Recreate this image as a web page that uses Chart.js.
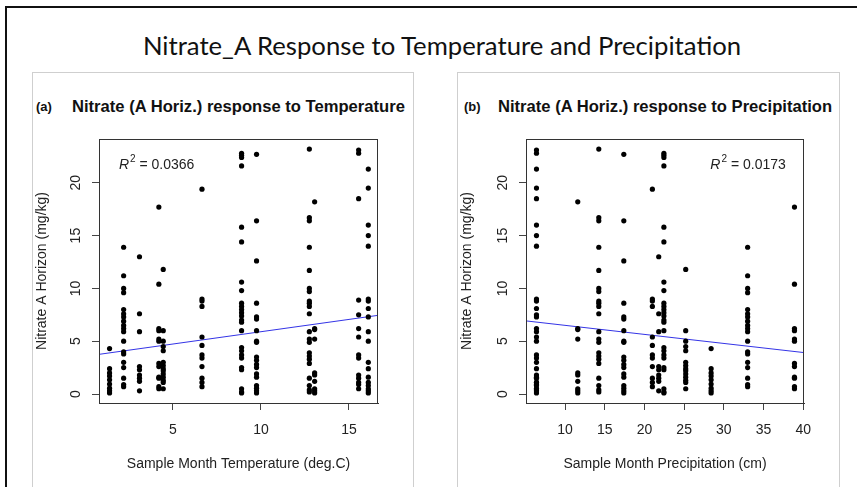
<!DOCTYPE html>
<html>
<head>
<meta charset="utf-8">
<script src="https://cdn.jsdelivr.net/npm/chart.js@4.4.0/dist/chart.umd.min.js"></script>
<style>
  body { margin: 0; width: 857px; height: 487px; overflow: hidden; background: #fff; position: relative;
         font-family: "Liberation Sans", Arial, sans-serif; color: #111; }
  .frame { position: absolute; left: 5px; top: 6px; width: 900px; height: 600px; border: 2px solid #111; }
  .main-title { position: absolute; left: 0; top: 30px; width: 884px; text-align: center;
                font-family: Lato, sans-serif; font-size: 25.7px; }
  .panel { position: absolute; top: 72px; height: 430px; border: 1px solid #cfcfcf; }
  .tag { position: absolute; top: 99px; font-weight: bold; font-size: 13px; }
  .ptitle { position: absolute; top: 97px; font-weight: bold; font-size: 16.6px; }
  canvas { position: absolute; }
</style>
</head>
<body>
<div class="frame"></div>
<div class="main-title">Nitrate_A Response to Temperature and Precipitation</div>

<div class="panel" style="left:32px; width:380px;"></div>
<div class="panel" style="left:457px; width:381px;"></div>

<div class="tag" style="left:36px;">(a)</div>
<div class="ptitle" style="left:72px;">Nitrate (A Horiz.) response to Temperature</div>
<div class="tag" style="left:464px;">(b)</div>
<div class="ptitle" style="left:498px;">Nitrate (A Horiz.) response to Precipitation</div>

<canvas id="tempChart" width="381" height="415" style="left:32px; top:72px;"></canvas>
<canvas id="precipChart" width="382" height="415" style="left:457px; top:72px;"></canvas>

<script>
// one entry per sample month
const monthTemp = [1.4, 2.2, 3.1, 4.2, 4.45, 6.65, 8.9, 9.75, 12.75, 13.05, 15.55, 16.1];
const monthPrecip = [28.4, 33.0, 21.8, 38.9, 25.2, 21.0, 22.45, 17.4, 14.25, 11.6, 6.4, 6.4];

// nitrate (mg/kg) measured in each sample month
const nitrateByMonth = [
  [4.3, 2.4, 2.0, 1.7, 1.35, 0.95, 0.55, 0.3, 0.1],
  [13.9, 11.2, 10.0, 9.6, 8.0, 7.6, 7.3, 6.9, 6.5, 6.2, 5.9, 5.0, 4.0, 3.8, 3.0, 2.5, 1.5, 0.9, 0.7],
  [13.0, 7.6, 5.9, 2.6, 2.3, 1.8, 1.5, 1.2, 0.3],
  [17.7, 10.4, 6.2, 6.0, 5.2, 5.0, 2.9, 2.6, 1.6, 1.5, 0.7, 0.5],
  [11.8, 6.0, 5.0, 4.5, 4.1, 3.0, 2.7, 2.4, 2.2, 1.9, 1.6, 1.3, 1.1, 0.5],
  [19.4, 9.0, 8.8, 8.3, 5.4, 4.6, 3.7, 3.4, 2.6, 1.5, 1.1, 0.7],
  [22.8, 22.6, 22.4, 21.6, 15.8, 14.4, 10.6, 9.8, 8.6, 8.3, 8.0, 7.7, 7.4, 7.0, 6.8, 6.0, 4.4, 4.1, 3.7, 3.4, 2.5, 2.3, 0.5, 0.2, 0.1],
  [22.7, 16.4, 12.6, 8.6, 7.3, 7.1, 6.0, 5.0, 4.9, 3.5, 3.2, 2.8, 2.5, 1.9, 1.6, 0.8, 0.55, 0.3, 0.1],
  [23.2, 16.7, 16.4, 13.9, 11.7, 10.0, 9.7, 8.8, 8.6, 8.3, 7.6, 5.9, 5.2, 4.9, 3.9, 3.6, 3.3, 2.9, 1.5, 0.8, 0.4, 0.2],
  [18.2, 6.2, 6.1, 5.2, 2.0, 1.8, 1.2, 0.5, 0.3, 0.1],
  [23.1, 22.8, 18.5, 8.9, 7.5, 6.2, 5.4, 3.7, 3.4, 1.8, 1.5, 1.1, 0.9, 0.5],
  [21.3, 19.5, 16.0, 15.0, 14.0, 9.0, 8.8, 8.1, 7.3, 5.9, 5.0, 3.0, 2.4, 1.6, 1.1, 0.8, 0.5, 0.3, 0.1]
];

const nitrateTicks = [0, 5, 10, 15, 20];
const tempTicks = [5, 10, 15];
const precipTicks = [10, 15, 20, 25, 30, 35, 40];

// linear fits: [intercept, slope]
const tempFit = [3.57, 0.233];
const precipFit = [7.36, -0.0857];
const tempR2 = '0.0366';
const precipR2 = '0.0173';

Chart.defaults.font.family = "'Liberation Sans', Arial, sans-serif";
Chart.defaults.color = '#222';

function toPoints(xs) {
  const pts = [];
  nitrateByMonth.forEach((vals, i) => {
    vals.forEach(v => pts.push({ x: xs[i], y: v }));
  });
  return pts;
}

// box around the plot, rotated y labels and the R^2 note
const decorations = {
  id: 'decorations',
  afterDraw(chart, args, opts) {
    const { ctx, chartArea: a, scales } = chart;
    ctx.save();
    ctx.strokeStyle = '#333';
    ctx.lineWidth = 1;
    ctx.strokeRect(a.left + 0.5, a.top + 0.5, a.right - a.left - 1, a.bottom - a.top);

    ctx.fillStyle = '#222';
    ctx.font = "14px 'Liberation Sans', Arial, sans-serif";
    ctx.textAlign = 'center';
    ctx.textBaseline = 'middle';
    nitrateTicks.forEach(v => {
      const y = scales.y.getPixelForValue(v);
      ctx.save();
      ctx.translate(a.left - 23, y);
      ctx.rotate(-Math.PI / 2);
      ctx.fillText(String(v), 0, 0);
      ctx.restore();
    });

    let x = scales.x.getPixelForValue(opts.at[0]);
    const y = scales.y.getPixelForValue(opts.at[1]);
    ctx.textAlign = 'left';
    ctx.font = "italic 14px 'Liberation Sans', Arial, sans-serif";
    ctx.fillText('R', x, y);
    x += ctx.measureText('R').width + 1;
    ctx.font = "10px 'Liberation Sans', Arial, sans-serif";
    ctx.fillText('2', x, y - 6);
    x += ctx.measureText('2').width;
    ctx.font = "14px 'Liberation Sans', Arial, sans-serif";
    ctx.fillText(' = ' + opts.r2, x, y);
    ctx.restore();
  }
};

function makeChart(id, xs, xTicks, xMin, xMax, fit, r2, r2At, xTitle, yWidth) {
  const axisFont = { size: 14 };
  return new Chart(document.getElementById(id), {
    type: 'scatter',
    data: {
      datasets: [
        {
          data: toPoints(xs),
          backgroundColor: '#000',
          borderWidth: 0,
          pointRadius: 2.6
        },
        {
          type: 'line',
          data: [
            { x: xMin, y: fit[0] + fit[1] * xMin },
            { x: xMax, y: fit[0] + fit[1] * xMax }
          ],
          borderColor: '#3434e6',
          borderWidth: 1,
          pointRadius: 0
        }
      ]
    },
    options: {
      responsive: false,
      animation: false,
      layout: { padding: { top: 67, right: 35, left: 0, bottom: 0 } },
      plugins: {
        legend: { display: false },
        tooltip: { enabled: false },
        decorations: { r2: r2, at: r2At }
      },
      scales: {
        x: {
          type: 'linear',
          min: xMin,
          max: xMax,
          afterBuildTicks: s => { s.ticks = xTicks.map(v => ({ value: v })); },
          afterFit: s => { s.height = 84; },
          ticks: { font: axisFont, color: '#222', padding: 12, maxRotation: 0, autoSkip: false },
          grid: { drawOnChartArea: false, tickLength: 7, tickColor: '#444' },
          border: { color: '#333' },
          title: { display: true, text: xTitle, font: axisFont, color: '#222', padding: { top: 0, bottom: 14 } }
        },
        y: {
          type: 'linear',
          min: -0.85,
          max: 24.15,
          afterBuildTicks: s => { s.ticks = nitrateTicks.map(v => ({ value: v })); },
          afterFit: s => { s.width = yWidth; },
          ticks: { display: false },
          grid: { drawOnChartArea: false, tickLength: 7, tickColor: '#444' },
          border: { color: '#333' },
          title: { display: true, text: 'Nitrate A Horizon (mg/kg)', font: axisFont, color: '#222', padding: { top: 2, bottom: 0 } }
        }
      }
    },
    plugins: [decorations]
  });
}

makeChart('tempChart', monthTemp, tempTicks, 0.8, 16.65, tempFit, tempR2, [1.93, 21.7],
  'Sample Month Temperature (deg.C)', 67);
makeChart('precipChart', monthPrecip, precipTicks, 5.08, 40.1, precipFit, precipR2, [28.3, 21.7],
  'Sample Month Precipitation (cm)', 69);
</script>
</body>
</html>
